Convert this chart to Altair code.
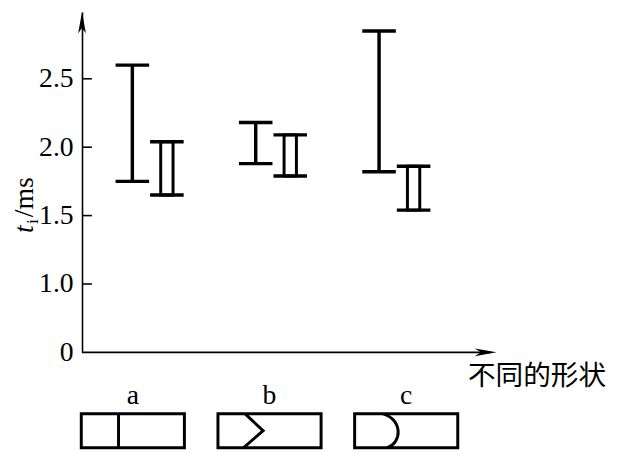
import altair as alt
import pandas as pd

# ---------------- data ----------------
groups = ["a", "b", "c"]
series = ["I", "II"]
single_low = [1.75, 1.88, 1.82]
single_high = [2.60, 2.18, 2.85]
double_low = [1.65, 1.79, 1.54]
double_high = [2.04, 2.09, 1.86]
y_tick_values = [1.0, 1.5, 2.0, 2.5]
y_label_values = [0.5, 1.0, 1.5, 2.0, 2.5]   # 0.5 is the broken-axis origin, shown as "0"
x_title = "不同的形状"

rows = []
for g, lo, hi in zip(groups, single_low, single_high):
    rows.append({"group": g, "series": "I", "lo": lo, "hi": hi})
for g, lo, hi in zip(groups, double_low, double_high):
    rows.append({"group": g, "series": "II", "lo": lo, "hi": hi})
df = pd.DataFrame(rows)
df_groups = pd.DataFrame({"group": groups})
df_ticks = pd.DataFrame({"v": y_tick_values})
one = pd.DataFrame({"k": [0]})

SERIF = "Liberation Serif"
W, H = 420, 345

y_scale = alt.Scale(domain=[0.5, 2.989], nice=False, zero=False)
y_axis = alt.Axis(
    values=y_label_values,
    labelExpr="datum.value == 0.5 ? '0' : format(datum.value, '.1f')",
    ticks=False, tickSize=0, labelPadding=9,
    labelFont=SERIF, labelFontSize=28, labelColor="black",
    labelFlush=False, labelOverlap=False,
    domainColor="black", domainWidth=1.6, grid=False, title=None,
)

x_main = alt.X("group:N", scale=alt.Scale(domain=groups, range=[6, 381],
                                          paddingInner=0, paddingOuter=0), axis=None)
x_off = alt.XOffset("series:N", scale=alt.Scale(domain=series, paddingInner=0,
                                                 paddingOuter=0.786))

rule_I = alt.Chart(df).transform_filter(alt.datum.series == "I").mark_rule(
    color="black", strokeWidth=3.5
).encode(x=x_main, xOffset=x_off,
         y=alt.Y("lo:Q", scale=y_scale, axis=y_axis), y2="hi:Q")

bar_II = alt.Chart(df).transform_filter(alt.datum.series == "II").mark_bar(
    width=12.5, fill="white", stroke="black", strokeWidth=3
).encode(x=x_main, xOffset=x_off,
         y=alt.Y("lo:Q", scale=y_scale, axis=y_axis), y2="hi:Q")

cap_lo = alt.Chart(df).mark_tick(
    orient="horizontal", color="black", thickness=3.5, size=34, opacity=1
).encode(x=x_main, xOffset=x_off, y=alt.Y("lo:Q", scale=y_scale, axis=y_axis))

cap_hi = alt.Chart(df).mark_tick(
    orient="horizontal", color="black", thickness=3.5, size=34, opacity=1
).encode(x=x_main, xOffset=x_off, y=alt.Y("hi:Q", scale=y_scale, axis=y_axis))

main = alt.layer(rule_I, bar_II, cap_lo, cap_hi)

# ---------------- shape sketches under the axis ----------------
path_a = ("M-1.045,-0.346L1.045,-0.346L1.045,0.346L-1.045,0.346Z"
          "M-0.29,-0.346L-0.29,0.346")
path_b = ("M-1.045,-0.346L1.045,-0.346L1.045,0.346L-1.045,0.346Z"
          "M-0.50,-0.346L-0.13,0L-0.53,0.346")
path_c = ("M-1.045,-0.346L1.045,-0.346L1.045,0.346L-1.045,0.346Z"
          "M-0.496,-0.346C-0.07,-0.25 -0.07,0.25 -0.396,0.346")

x_box = alt.X("group:N", scale=alt.Scale(domain=groups, range=[-17.75, 397.75],
                                         paddingInner=0, paddingOuter=0), axis=None)

boxes = alt.Chart(df_groups).mark_point(
    filled=False, stroke="black", strokeWidth=3, size=10000, opacity=1
).encode(
    x=x_box,
    y=alt.value(424.4),
    shape=alt.Shape("group:N", scale=alt.Scale(domain=groups,
                                               range=[path_a, path_b, path_c]),
                    legend=None),
)

box_labels = alt.Chart(df_groups).mark_text(
    font=SERIF, fontSize=28, color="black", align="center", baseline="alphabetic"
).encode(x=x_box, y=alt.value(397), text="group:N")

sketch = alt.layer(boxes, box_labels)

# ---------------- axis decorations ----------------
y_ticks = alt.Chart(df_ticks).mark_rule(color="black", strokeWidth=1.6).encode(
    y=alt.Y("v:Q", scale=y_scale, axis=y_axis), x=alt.value(0), x2=alt.value(10)
)

x_line = alt.Chart(one).mark_rule(color="black", strokeWidth=1.6).encode(
    x=alt.value(0), x2=alt.value(W - 6), y=alt.value(H)
)

y_arrow = alt.Chart(one).mark_point(
    shape="M0,-1L0.36,1L0,0.45L-0.36,1Z", filled=True, size=484,
    color="black", opacity=1
).encode(x=alt.value(0), y=alt.value(11))

x_arrow = alt.Chart(one).mark_point(
    shape="M1,0L-1,0.36L-0.45,0L-1,-0.36Z", filled=True, size=484,
    color="black", opacity=1
).encode(x=alt.value(W - 11), y=alt.value(H))

x_title_mark = alt.Chart(one).mark_text(
    text=x_title, font="Noto Sans CJK SC", fontSize=28, color="black",
    align="right", baseline="alphabetic"
).encode(x=alt.value(531), y=alt.value(378))

t_mark = alt.Chart(one).mark_text(
    text="t", font=SERIF, fontStyle="italic", fontSize=28, color="black",
    angle=270, align="left", baseline="alphabetic"
).encode(x=alt.value(-50), y=alt.value(224))

i_mark = alt.Chart(one).mark_text(
    text="i", font=SERIF, fontSize=18, color="black",
    angle=270, align="left", baseline="alphabetic"
).encode(x=alt.value(-45), y=alt.value(215))

ms_mark = alt.Chart(one).mark_text(
    text="/ms", font=SERIF, fontSize=28, color="black",
    angle=270, align="left", baseline="alphabetic"
).encode(x=alt.value(-50), y=alt.value(208))

chart = alt.layer(
    main, sketch, y_ticks, x_line, y_arrow, x_arrow, x_title_mark,
    t_mark, i_mark, ms_mark
).resolve_scale(x="independent").properties(
    width=W, height=H,
    padding={"left": 75, "top": 1, "right": 114, "bottom": 98},
    autosize=alt.AutoSizeParams(type="none"),
    background="white",
).configure_view(stroke=None)

chart.save("out.html", embed_options={"renderer": "svg", "actions": False})
